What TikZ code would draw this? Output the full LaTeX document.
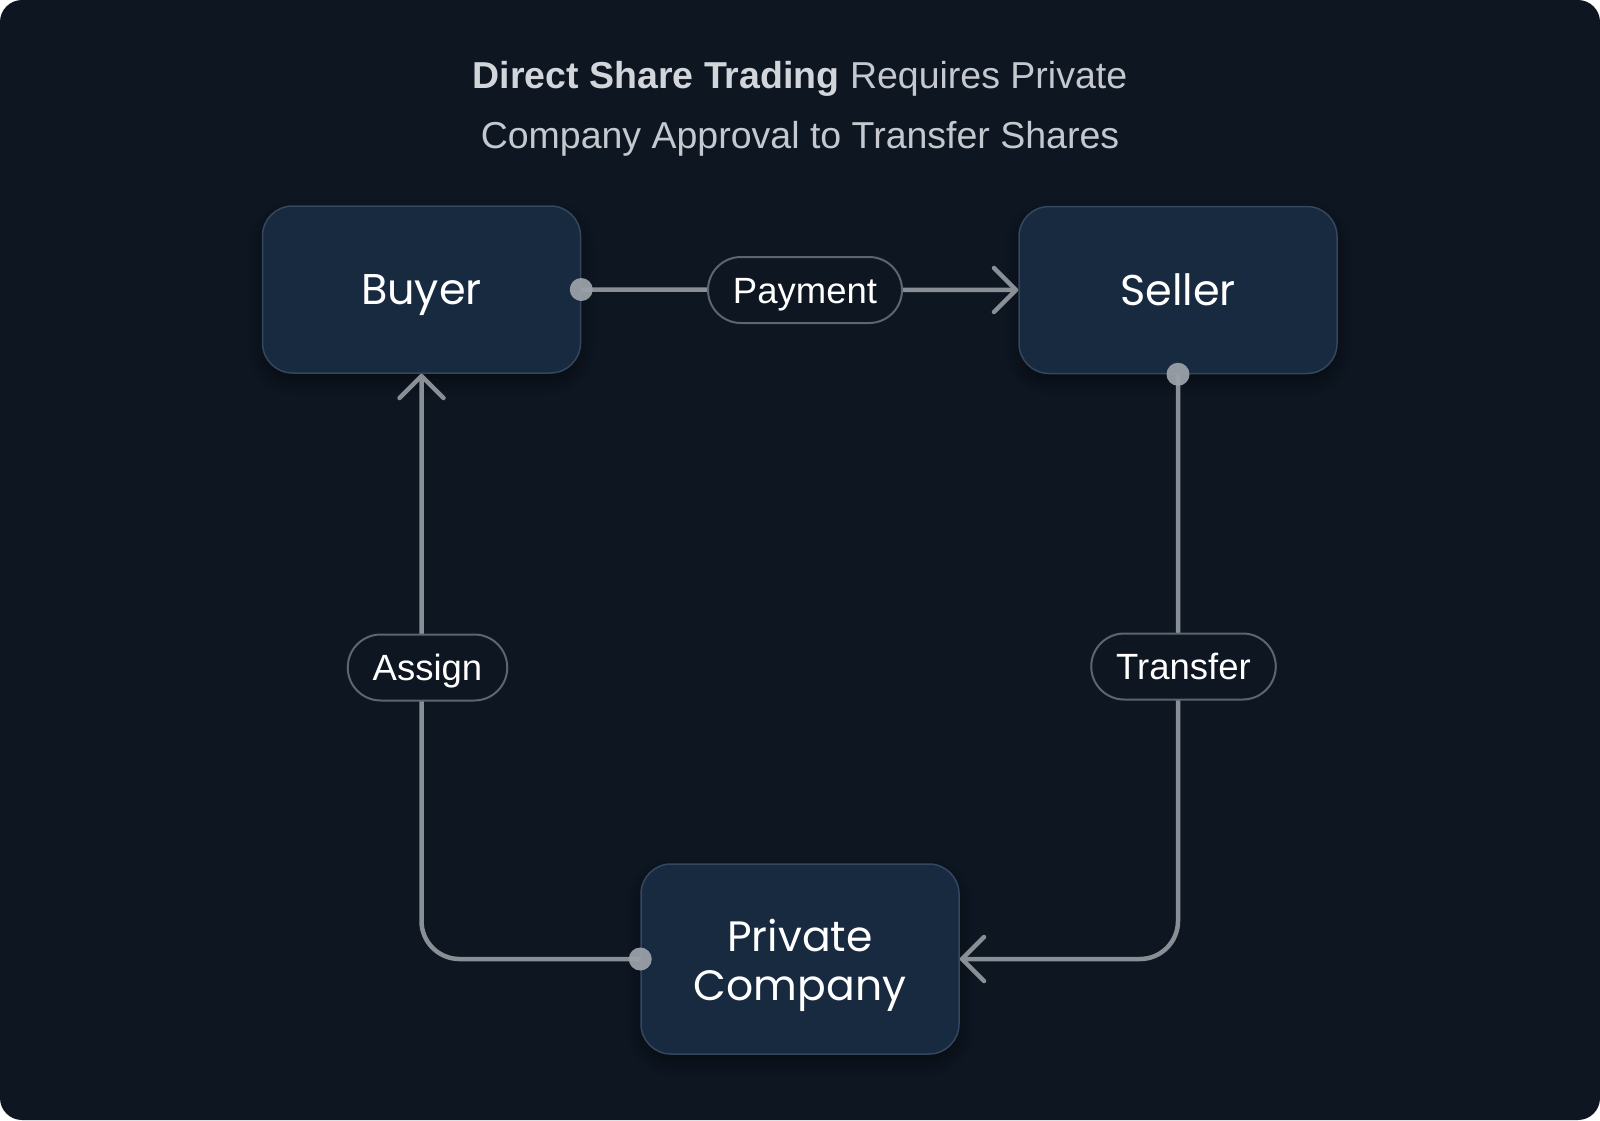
\documentclass[tikz,border=0pt]{standalone}
\usepackage{fontspec}
\setmainfont{Liberation Sans}
\newfontfamily\boxfont{Poppins}
\usetikzlibrary{arrows.meta,shadows.blur}
\definecolor{bg}{HTML}{0D1621}
\definecolor{boxfill}{HTML}{182A40}
\definecolor{boxline}{HTML}{34475E}
\definecolor{wirec}{HTML}{8A8F95}
\definecolor{dotc}{HTML}{9AA0A7}
\definecolor{pillline}{HTML}{5C6670}
\definecolor{titlebold}{HTML}{D2D5DA}
\definecolor{titlereg}{HTML}{C5C9CF}
\begin{document}
\begin{tikzpicture}[x=1pt,y=-1pt,
  card/.style={draw=boxline, line width=1.5pt, fill=boxfill, rounded corners=30pt,
    minimum width=318pt, align=center, text=white, inner sep=0pt,
    font=\boxfont\fontsize{43}{49}\selectfont, text height=30pt, text depth=0pt,
    blur shadow={shadow xshift=0pt, shadow yshift=-8pt, shadow blur radius=14pt, shadow opacity=45}},
  cardtext/.style={text=white, inner sep=0pt, anchor=base,
    font=\boxfont\fontsize{42.5}{49}\selectfont},
  titletext/.style={inner sep=0pt, anchor=base, font=\fontsize{37.5}{44}\selectfont},
  pill/.style={draw=pillline, line width=2pt, fill=bg, rounded corners=33pt,
    minimum height=66pt, inner xsep=25pt, text=white,
    font=\fontsize{36.5}{40}\selectfont, text height=26.1pt, text depth=0pt},
  wire/.style={draw=wirec, line width=4.5pt, rounded corners=38pt},
  tip/.style={-{Straight Barb[length=22pt,width=44pt,round]}},
  dot/.style={fill=dotc, fill opacity=0.95}
]
\useasboundingbox (0,0) rectangle (1600,1120);
\fill[white] (0,0) rectangle (1600,1120);
\fill[bg, rounded corners=22pt] (0,0) rectangle (1600,1120);

\node[titletext] (title1) at (800,88.3)
  {\textcolor{titlebold}{\bfseries Direct Share Trading} \textcolor{titlereg}{Requires Private}};
\node[titletext, text=titlereg] (title2) at (800,148) {Company Approval to Transfer Shares};

\node[card, minimum height=167pt] (buyer) at (421.5,289.5) {Buyer};
\node[card, minimum height=167pt] (seller) at (1178,290) {Seller};
\node[card, minimum height=190pt] (company) at (800,959) {};
\node[cardtext] (company1) at (800,951.7) {Private};
\node[cardtext] (company2) at (800,1000) {Company};

\draw[wire, tip] (buyer.east) -- (seller.west);
\draw[wire, tip] (seller.south) -- (seller.south |- company.east) -- (company.east);
\draw[wire, tip] (company.west) -- (company.west -| buyer.south) -- (buyer.south);

\fill[dot] (buyer.east) circle (11.5pt);
\fill[dot] (seller.south) circle (11.5pt);
\fill[dot] (company.west) circle (11.5pt);

\node[pill] (payment) at (805,290) {Payment};
\node[pill] (assign) at (427.5,667.5) {Assign};
\node[pill] (transfer) at (1183.5,666.5) {Transfer};
\end{tikzpicture}
\end{document}
